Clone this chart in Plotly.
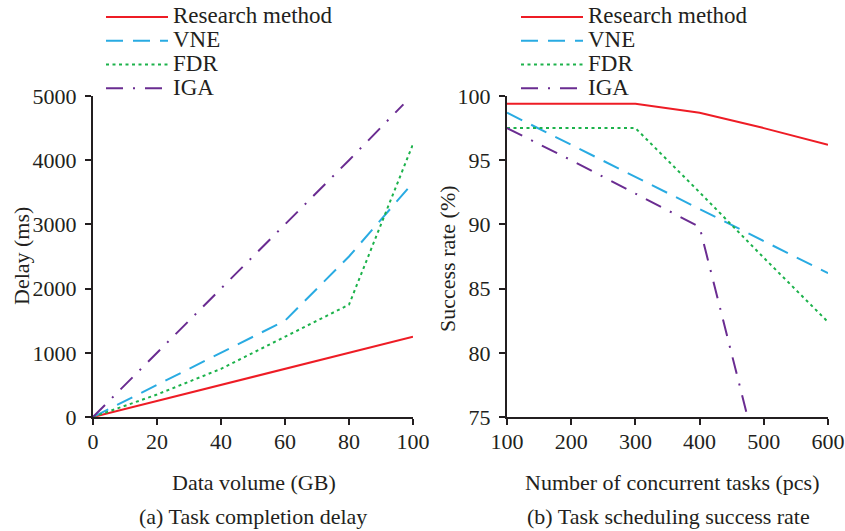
import plotly.graph_objects as go

# ---- data ----
data_volume = [0, 20, 40, 60, 80, 100]
delay_research = [0, 250, 500, 750, 1000, 1250]
delay_vne = [0, 500, 1000, 1500, 2500, 3650]
delay_fdr = [0, 350, 750, 1250, 1750, 4250]
iga_volume = [0, 20, 40, 60, 80, 97]
delay_iga = [0, 1000, 2000, 3000, 4000, 4870]

tasks = [100, 200, 300, 400, 500, 600]
succ_research = [99.4, 99.4, 99.4, 98.7, 97.5, 96.2]
succ_vne = [98.7, 96.2, 93.7, 91.2, 88.7, 86.2]
succ_fdr = [97.5, 97.5, 97.5, 92.5, 87.4, 82.4]
iga_tasks = [100, 200, 300, 400, 500]
succ_iga = [97.5, 95.0, 92.4, 89.8, 70.0]

names = ["Research method", "VNE", "FDR", "IGA"]
colors = ["#ee1c25", "#29abe2", "#1cb24b", "#6a2c91"]
dashes = ["solid", "17px,10px", "3px,3.5px", "17px,10px,2px,10px"]

FONT = "Liberation Serif"
TXT = "#231f20"
FS = 22
W, H = 845, 531

fig = go.Figure()

left = [(data_volume, delay_research), (data_volume, delay_vne),
        (data_volume, delay_fdr), (iga_volume, delay_iga)]
right = [(tasks, succ_research), (tasks, succ_vne),
         (tasks, succ_fdr), (iga_tasks, succ_iga)]

def label(n):
    return "<span style='font-size:23px'>%s</span>" % n

for i, (x, y) in enumerate(left):
    fig.add_trace(go.Scatter(x=x, y=y, mode="lines", name=label(names[i]),
                             line=dict(color=colors[i], width=2, dash=dashes[i]),
                             xaxis="x", yaxis="y", legend="legend"))
for i, (x, y) in enumerate(right):
    fig.add_trace(go.Scatter(x=x, y=y, mode="lines", name=label(names[i]),
                             line=dict(color=colors[i], width=2, dash=dashes[i]),
                             xaxis="x2", yaxis="y2", legend="legend2"))

def px_x(p):
    return p / W

def px_y(p):
    return 1 - p / H

axis_common = dict(showgrid=False, zeroline=False, showline=True, linecolor=TXT,
                   linewidth=2, ticks="outside", ticklen=6, tickwidth=2,
                   tickcolor=TXT, automargin=False,
                   tickfont=dict(family=FONT, size=FS, color=TXT))

ydom = [px_y(417), px_y(96)]
leg_common = dict(yanchor="top", y=1.0, xanchor="left", bgcolor="rgba(0,0,0,0)",
                  itemwidth=62, tracegroupgap=0,
                  font=dict(family=FONT, size=16, color=TXT))

fig.update_layout(
    width=W, height=H,
    margin=dict(l=0, r=0, t=0, b=0, autoexpand=False),
    paper_bgcolor="white", plot_bgcolor="white",
    font=dict(family=FONT, size=FS, color=TXT),
    xaxis=dict(domain=[px_x(93), px_x(413)], range=[0, 100], tickvals=data_volume,
               anchor="y", ticklabelstandoff=-2, **axis_common),
    yaxis=dict(domain=ydom, range=[0, 5000], tickvals=[0, 1000, 2000, 3000, 4000, 5000],
               anchor="x", ticklabelstandoff=4, **axis_common),
    xaxis2=dict(domain=[px_x(507), px_x(828)], range=[100, 600], tickvals=tasks,
                anchor="y2", ticklabelstandoff=-2, **axis_common),
    yaxis2=dict(domain=ydom, range=[75, 100], tickvals=[75, 80, 85, 90, 95, 100],
                anchor="x2", ticklabelstandoff=4, **axis_common),
    legend=dict(x=px_x(101), **leg_common),
    legend2=dict(x=px_x(516), **leg_common),
    showlegend=True,
)

ann = [
    ("Data volume (GB)", 254, 482, 0),
    ("(a) Task completion delay", 253, 516, 0),
    ("Number of concurrent tasks (pcs)", 672, 482, 0),
    ("(b) Task scheduling success rate", 668, 516, 0),
    ("Delay (ms)", 22, 256, -90),
    ("Success rate (%)", 447, 258, -90),
]
for text, x, y, ang in ann:
    fig.add_annotation(text=text, x=px_x(x), y=px_y(y), xref="paper", yref="paper",
                       showarrow=False, textangle=ang, xanchor="center", yanchor="middle",
                       font=dict(family=FONT, size=FS, color=TXT))

fig.write_html("out.html")
